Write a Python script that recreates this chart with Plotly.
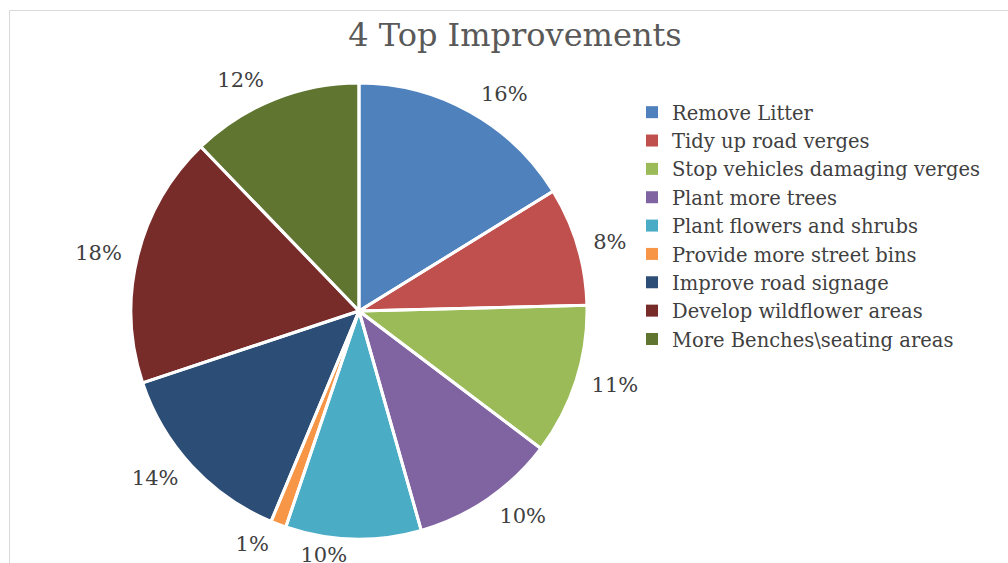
import plotly.graph_objects as go

categories = ["Remove Litter", "Tidy up road verges", "Stop vehicles damaging verges",
              "Plant more trees", "Plant flowers and shrubs", "Provide more street bins",
              "Improve road signage", "Develop wildflower areas", "More Benches\\seating areas"]
values = [16.2, 8.4, 10.7, 10.3, 9.6, 1.1, 13.6, 17.9, 12.2]
colors = ["#4F81BD", "#C0504D", "#9BBB59", "#8064A2", "#4BACC6", "#F79646",
          "#2C4D75", "#772C2A", "#5F7530"]

W, H = 1008, 563
cx, cy, r = 359, 311, 228
r_lab = 238      # label ring for most slices
r_lab_low = 232  # label ring for the bottom slice (kept close so it stays in view)
low_idx = 4      # "Plant flowers and shrubs" label sits at the bottom edge


def dom(rad):
    return dict(x=[max(0, (cx - rad) / W), min(1, (cx + rad) / W)],
                y=[max(0, (H - cy - rad) / H), min(1, (H - cy + rad) / H)])


common = dict(labels=categories, values=values, sort=False, direction="clockwise", rotation=0,
              automargin=False)
clear = ["rgba(0,0,0,0)"] * len(values)
lab_font = dict(family="DejaVu Serif", size=21, color="#404040")

fig = go.Figure()
# filled slices (no outline so legend swatches stay full size)
fig.add_trace(go.Pie(
    **common, marker=dict(colors=colors, line=dict(width=0)),
    textinfo="none", domain=dom(r), hoverinfo="label+percent",
))
# white separators between slices
fig.add_trace(go.Pie(
    **common, marker=dict(colors=clear, line=dict(color="white", width=3)),
    textinfo="none", domain=dom(r), showlegend=False, hoverinfo="skip",
))
# transparent companion pies used only to place the percentage labels
fig.add_trace(go.Pie(
    **common, marker=dict(colors=clear, line=dict(width=0)),
    textposition=["none" if i == low_idx else "outside" for i in range(len(values))],
    texttemplate="%{percent:.0%}", textfont=lab_font,
    domain=dom(r_lab), showlegend=False, hoverinfo="skip",
))
fig.add_trace(go.Pie(
    **common, marker=dict(colors=clear, line=dict(width=0)),
    textposition=["outside" if i == low_idx else "none" for i in range(len(values))],
    texttemplate="%{percent:.0%}", textfont=lab_font,
    domain=dom(r_lab_low), showlegend=False, hoverinfo="skip",
))

fig.update_layout(
    width=W, height=H, margin=dict(l=0, r=0, t=0, b=0, autoexpand=False),
    paper_bgcolor="white", plot_bgcolor="white",
    title=dict(text="4 Top Improvements", x=515 / W, xanchor="center", y=1 - 35 / H,
               yanchor="middle", font=dict(family="DejaVu Serif", size=32, color="#595959")),
    legend=dict(x=632 / W, xanchor="left", y=1 - 93 / H, yanchor="top",
                font=dict(family="DejaVu Serif", size=19.5, color="#404040"),
                bgcolor="rgba(0,0,0,0)"),
    shapes=[
        dict(type="line", xref="paper", yref="paper", x0=9.5 / W, x1=1, y0=1 - 10.5 / H, y1=1 - 10.5 / H,
             line=dict(color="#D9D9D9", width=1), layer="below"),
        dict(type="line", xref="paper", yref="paper", x0=9.5 / W, x1=9.5 / W, y0=0, y1=1 - 10.5 / H,
             line=dict(color="#D9D9D9", width=1), layer="below"),
    ],
)

fig.write_html("out.html", config={"displayModeBar": False},
               post_script="document.body.style.margin='0';document.body.style.overflow='hidden';")
